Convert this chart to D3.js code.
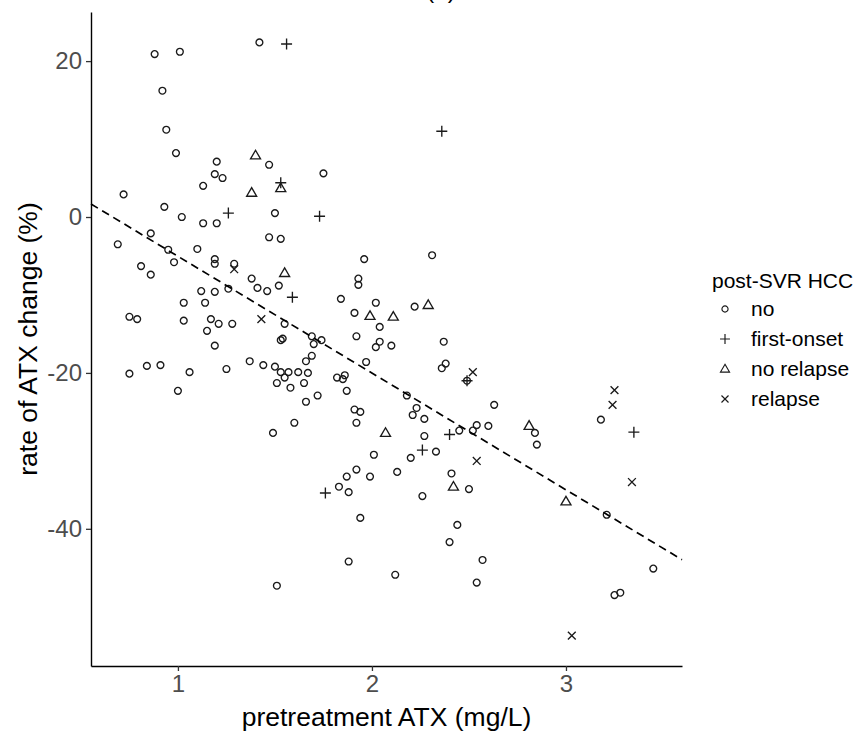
<!DOCTYPE html>
<html>
<head>
<meta charset="utf-8">
<script src="https://cdn.jsdelivr.net/npm/d3@7"></script>
<style>
  body { margin: 0; background: #fff; }
  svg { display: block; font-family: 'Liberation Sans', Arial, sans-serif; }
</style>
</head>
<body>
<div id="chart"></div>
<script>
// post-SVR HCC groups, [pretreatment ATX (mg/L), rate of ATX change (%)]
const noPoints = [
  [0.88, 20.9], [1.01, 21.2], [1.42, 22.4], [0.92, 16.2], [0.94, 11.2], [0.99, 8.2], [1.20, 7.1],
  [1.47, 6.7], [1.19, 5.5], [1.23, 5.0], [1.75, 5.6], [1.13, 4.0], [0.72, 2.9], [0.93, 1.3],
  [1.02, 0.0], [1.13, -0.8], [1.20, -0.8], [1.50, 0.5], [0.86, -2.1], [0.69, -3.5], [1.47, -2.6],
  [1.53, -2.8], [0.95, -4.2], [1.10, -4.1], [0.98, -5.8], [1.19, -5.4], [1.19, -6.0], [1.29, -6.0],
  [0.81, -6.3], [0.86, -7.4], [1.38, -7.9], [1.12, -9.5], [1.19, -9.6], [1.26, -9.2], [1.41, -9.1],
  [1.46, -9.5], [1.52, -8.8], [1.03, -11.0], [1.14, -11.0], [0.75, -12.8], [0.79, -13.1], [1.03, -13.3],
  [1.17, -13.1], [1.21, -13.7], [1.28, -13.7], [1.55, -13.7], [1.15, -14.6], [1.54, -15.6], [1.53, -15.8],
  [1.19, -16.5], [0.75, -20.1], [0.84, -19.1], [0.91, -19.0], [1.06, -19.9], [1.00, -22.3], [1.25, -19.5],
  [1.37, -18.5], [1.44, -19.0], [1.50, -19.2], [1.53, -19.9], [1.55, -20.6], [1.51, -21.3], [1.58, -21.9],
  [1.49, -27.7], [1.70, -16.3], [1.74, -15.8], [1.69, -15.3], [2.04, -16.0], [2.02, -16.7], [2.10, -16.5],
  [2.37, -16.0], [1.69, -17.8], [1.66, -18.5], [1.97, -18.6], [2.36, -19.4], [2.38, -18.8], [2.49, -21.0],
  [1.57, -19.9], [1.62, -19.9], [1.67, -20.0], [1.65, -21.3], [1.82, -20.6], [1.85, -20.8], [1.86, -20.3],
  [1.87, -22.3], [1.72, -22.9], [1.66, -23.7], [2.18, -22.9], [2.23, -24.5], [2.21, -25.4], [2.27, -25.9],
  [1.91, -24.7], [1.94, -25.0], [1.92, -26.4], [1.60, -26.4], [2.45, -27.4], [2.52, -27.4], [2.54, -26.7],
  [2.27, -28.1], [2.01, -30.5], [2.33, -30.1], [2.20, -30.9], [1.92, -32.4], [2.13, -32.7], [1.87, -33.3],
  [1.99, -33.3], [2.41, -32.9], [1.83, -34.6], [1.88, -35.3], [2.50, -34.9], [2.26, -35.8], [1.94, -38.6],
  [2.44, -39.5], [2.40, -41.7], [2.57, -44.0], [2.54, -46.9], [1.51, -47.3], [1.88, -44.2], [2.12, -45.9],
  [3.45, -45.1], [3.25, -48.5], [3.28, -48.2], [3.21, -38.2], [3.18, -26.0], [2.63, -24.1], [2.60, -26.8],
  [2.84, -27.7], [2.85, -29.2], [1.96, -5.4], [2.31, -4.9], [1.93, -7.9], [1.93, -8.7], [1.84, -10.5],
  [2.02, -11.0], [2.22, -11.5], [1.91, -12.3], [2.04, -14.1], [1.92, -15.3]
]
const firstOnsetPoints = [
  [1.56, 22.2], [2.36, 11.0], [1.53, 4.4], [1.26, 0.5], [1.73, 0.1], [1.59, -10.3],
  [2.40, -27.9], [2.26, -29.9], [1.76, -35.4], [2.49, -21.0], [3.35, -27.6]
]
const noRelapsePoints = [
  [1.40, 7.9], [1.38, 3.1], [1.53, 3.7], [1.55, -7.2], [2.29, -11.3], [1.99, -12.7],
  [2.11, -12.8], [2.07, -27.7], [2.42, -34.6], [2.81, -26.8], [3.00, -36.5]
]
const relapsePoints = [
  [1.29, -6.7], [1.43, -13.1], [2.52, -19.9], [2.54, -31.3], [3.25, -22.2], [3.24, -24.1],
  [3.34, -34.0], [3.03, -53.7]
]

const groupNames = ['no', 'first-onset', 'no relapse', 'relapse']
const groupShapes = ['circle', 'plus', 'triangle', 'times']
const groupData = [noPoints, firstOnsetPoints, noRelapsePoints, relapsePoints]

const xTicks = [1, 2, 3]
const yTicks = [20, 0, -20, -40]
const xDomain = [0.552, 3.598]
const yDomain = [-57.6, 26.3]

// fitted line: change = intercept + slope * ATX
const fitIntercept = 9.94
const fitSlope = -14.98

const W = 856
const H = 731
const margin = { top: 12, right: 174, bottom: 65, left: 91 }
const INK = '#1a1a1a'

const shapePath = (shape) => {
  if (shape === 'circle') return 'M3.4,0A3.4,3.4 0 1,1 -3.4,0A3.4,3.4 0 1,1 3.4,0Z'
  if (shape === 'plus') return 'M-5.5,0H5.5M0,-5.5V5.5'
  if (shape === 'triangle') return 'M0,-5.2L5,3.4H-5Z'
  return 'M-3.9,-3.9L3.9,3.9M-3.9,3.9L3.9,-3.9'
}

const svg = d3.select('#chart').append('svg')
  .attr('width', W)
  .attr('height', H)

const x = d3.scaleLinear().domain(xDomain).range([margin.left, W - margin.right])
const y = d3.scaleLinear().domain(yDomain).range([H - margin.bottom, margin.top])

// panel label, cropped at the top edge as in the source figure
svg.append('text')
  .attr('x', 441)
  .attr('y', -2)
  .attr('text-anchor', 'middle')
  .attr('font-size', '24px')
  .attr('fill', '#000')
  .text('(b)')

// points
groupData.forEach((pts, i) => {
  svg.append('g')
    .selectAll('path')
    .data(pts)
    .join('path')
    .attr('transform', (d) => `translate(${x(d[0])},${y(d[1])})`)
    .attr('d', shapePath(groupShapes[i]))
    .attr('fill', 'none')
    .attr('stroke', INK)
    .attr('stroke-width', 1.35)
})

// regression line across the whole panel
svg.append('line')
  .attr('x1', x(xDomain[0]))
  .attr('y1', y(fitIntercept + fitSlope * xDomain[0]))
  .attr('x2', x(xDomain[1]))
  .attr('y2', y(fitIntercept + fitSlope * xDomain[1]))
  .attr('stroke', '#000')
  .attr('stroke-width', 1.7)
  .attr('stroke-dasharray', '8 5')

const fmt = (d) => (d < 0 ? '-' + Math.abs(d) : String(d))

const xAxis = svg.append('g')
  .attr('transform', `translate(0,${H - margin.bottom})`)
  .call(d3.axisBottom(x).tickValues(xTicks).tickFormat(fmt).tickSize(5).tickPadding(4).tickSizeOuter(0))
const yAxis = svg.append('g')
  .attr('transform', `translate(${margin.left},0)`)
  .call(d3.axisLeft(y).tickValues(yTicks).tickFormat(fmt).tickSize(5).tickPadding(4).tickSizeOuter(0))

;[xAxis, yAxis].forEach((ax) => {
  ax.select('.domain').attr('stroke', '#000').attr('stroke-width', 1.4)
  ax.selectAll('.tick line').attr('stroke', '#333').attr('stroke-width', 1.3)
  ax.selectAll('.tick text')
    .attr('font-size', '24px')
    .attr('font-family', "'Liberation Sans', Arial, sans-serif")
    .attr('fill', '#4d4d4d')
})

// axis titles
svg.append('text')
  .attr('x', (margin.left + W - margin.right) / 2)
  .attr('y', 726)
  .attr('text-anchor', 'middle')
  .attr('font-size', '26.5px')
  .attr('fill', '#000')
  .text('pretreatment ATX (mg/L)')

svg.append('text')
  .attr('transform', `translate(37,${(margin.top + H - margin.bottom) / 2}) rotate(-90)`)
  .attr('text-anchor', 'middle')
  .attr('font-size', '26.5px')
  .attr('fill', '#000')
  .text('rate of ATX change (%)')

// legend
const legend = svg.append('g')
legend.append('text')
  .attr('x', 712)
  .attr('y', 288)
  .attr('font-size', '21px')
  .attr('fill', '#000')
  .text('post-SVR HCC')

const item = legend.selectAll('g.item')
  .data(groupNames)
  .join('g')
  .attr('class', 'item')
  .attr('transform', (d, i) => `translate(725,${309 + i * 30})`)

item.append('path')
  .attr('d', (d, i) => shapePath(groupShapes[i]))
  .attr('transform', 'scale(0.9)')
  .attr('fill', 'none')
  .attr('stroke', INK)
  .attr('stroke-width', 1.3)

item.append('text')
  .attr('x', 26)
  .attr('y', 7)
  .attr('font-size', '21px')
  .attr('fill', '#000')
  .text((d) => d)
</script>
</body>
</html>
